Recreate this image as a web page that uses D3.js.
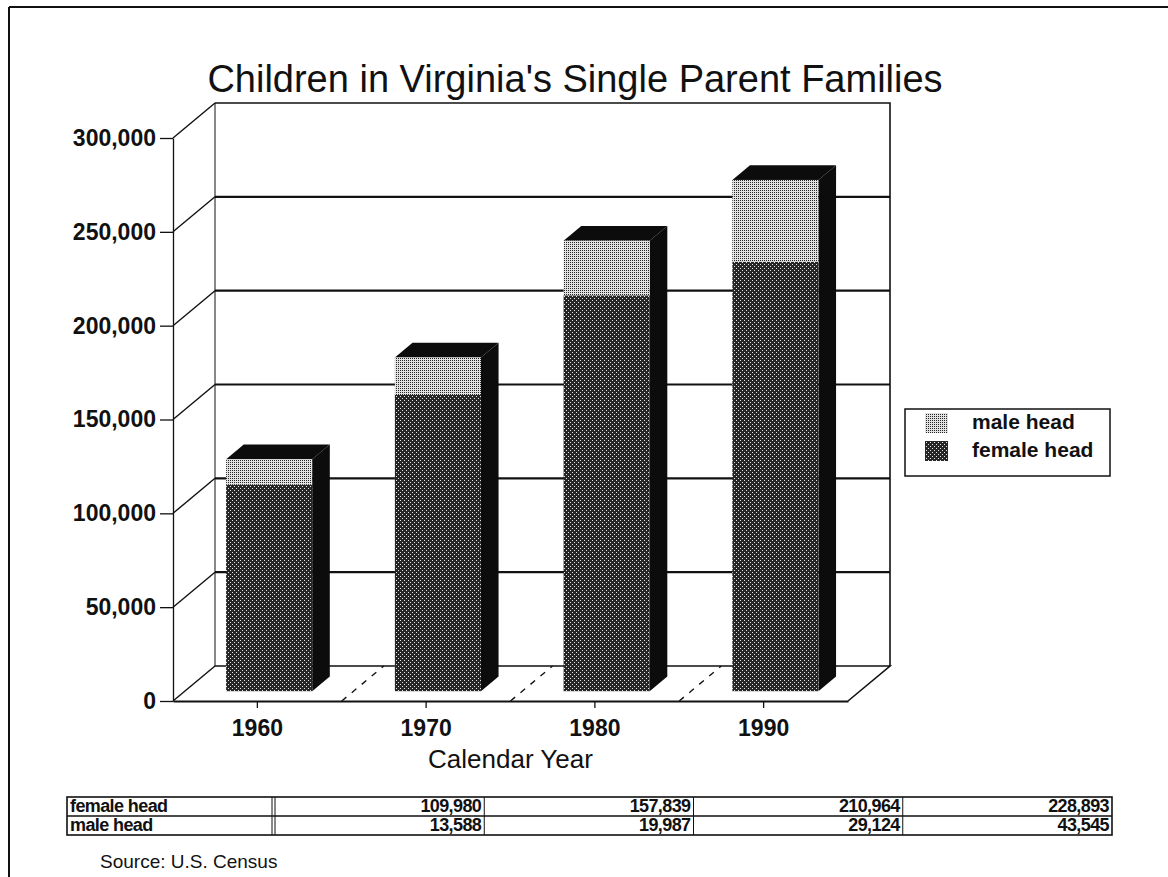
<!DOCTYPE html>
<html>
<head>
<meta charset="utf-8">
<script src="https://cdn.jsdelivr.net/npm/d3@7"></script>
<style>
  html, body { margin: 0; padding: 0; background: #fff; }
  svg { display: block; }
  text { font-family: "Liberation Sans", Arial, Helvetica, sans-serif; fill: #111; }
</style>
</head>
<body>
<svg id="chart" width="1168" height="877"></svg>
<script>
// Children in single-parent families, Virginia, by census year
const years = ["1960", "1970", "1980", "1990"];
const femaleHead = [109980, 157839, 210964, 228893];
const maleHead = [13588, 19987, 29124, 43545];
const yTickValues = [0, 50000, 100000, 150000, 200000, 250000, 300000];
const legendLabels = ["male head", "female head"];
const tableRows = ["female head", "male head"];

const svg = d3.select("#chart");
const ink = "#111";

// Oblique projection of the box: depth moves right and up
const DX = 42, DY = 35;
const x = d3.scaleBand().domain(years).range([173, 848]);
const y = d3.scaleLinear().domain([0, 300000]).range([701, 138]);
const proj = (px, v, z) => [px + z * DX, y(v) - z * DY];

// Dithered fill patterns for the two series
const defs = svg.append("defs");
const pf = defs.append("pattern").attr("id", "patFemale")
  .attr("width", 4).attr("height", 4).attr("patternUnits", "userSpaceOnUse");
pf.append("rect").attr("width", 4).attr("height", 4).attr("fill", "#262626");
pf.append("rect").attr("x", 0).attr("y", 0).attr("width", 1).attr("height", 1).attr("fill", "#e4e4e4");
pf.append("rect").attr("x", 2).attr("y", 2).attr("width", 1).attr("height", 1).attr("fill", "#e4e4e4");

const pm = defs.append("pattern").attr("id", "patMale")
  .attr("width", 2).attr("height", 2).attr("patternUnits", "userSpaceOnUse");
pm.append("rect").attr("width", 2).attr("height", 2).attr("fill", "#e2e2e2");
pm.append("rect").attr("x", 0).attr("y", 0).attr("width", 1).attr("height", 1).attr("fill", "#262626");

// Page frame (top and left edges)
svg.append("line").attr("x1", 9).attr("y1", 7).attr("x2", 1168).attr("y2", 7)
  .attr("stroke", ink).attr("stroke-width", 2);
svg.append("line").attr("x1", 9).attr("y1", 7).attr("x2", 9).attr("y2", 877)
  .attr("stroke", ink).attr("stroke-width", 2);

// Title
svg.append("text").attr("x", 575).attr("y", 92).attr("text-anchor", "middle")
  .style("font-size", "38px").text("Children in Virginia's Single Parent Families");

const x0 = x.range()[0], x1 = x.range()[1];
const vMax = y.domain()[1];
const line = d3.line();

// Back wall outline and gridlines
const walls = svg.append("g").attr("fill", "none").attr("stroke", ink);
walls.append("path").attr("stroke-width", 1.6)
  .attr("d", line([proj(x0, vMax, 1), proj(x1, vMax, 1), proj(x1, 0, 1)]));
walls.append("path").attr("stroke-width", 1)
  .attr("d", line([proj(x0, vMax, 1), proj(x0, 0, 1)]));
yTickValues.filter(v => v > 0 && v < vMax).forEach(v => {
  walls.append("path").attr("stroke-width", 2.2)
    .attr("d", line([proj(x0, v, 1), proj(x1, v, 1)]));
});
// Left wall diagonals
yTickValues.forEach(v => {
  walls.append("path").attr("stroke-width", 1.4)
    .attr("d", line([proj(x0, v, 0), proj(x0, v, 1)]));
});
// Floor
walls.append("path").attr("stroke-width", 1.6)
  .attr("d", line([proj(x0, 0, 1), proj(x1, 0, 1), proj(x1, 0, 0)]));
// Dashed floor separators between categories
years.slice(1).forEach(c => {
  walls.append("path").attr("stroke-width", 1.4).attr("stroke-dasharray", "6,7")
    .attr("d", line([proj(x(c), 0, 0), proj(x(c), 0, 1)]));
});

// Stacked 3D bars
const z0 = 0.28, z1 = 0.7;
const hw = x.bandwidth() * 0.255;
const bars = svg.append("g");
years.forEach((c, i) => {
  const cx = x(c) + x.bandwidth() / 2;
  const segs = [
    { lo: 0, hi: femaleHead[i], fill: "url(#patFemale)" },
    { lo: femaleHead[i], hi: femaleHead[i] + maleHead[i], fill: "url(#patMale)" }
  ];
  const total = femaleHead[i] + maleHead[i];
  // right side face
  bars.append("path").attr("fill", "#0c0c0c")
    .attr("d", line([proj(cx + hw, 0, z0), proj(cx + hw, 0, z1),
                     proj(cx + hw, total, z1), proj(cx + hw, total, z0)]) + "Z");
  // top face
  bars.append("path").attr("fill", "#0c0c0c")
    .attr("d", line([proj(cx - hw, total, z0), proj(cx - hw, total, z1),
                     proj(cx + hw, total, z1), proj(cx + hw, total, z0)]) + "Z");
  // front faces
  segs.forEach(s => {
    const a = proj(cx - hw, s.hi, z0), b = proj(cx + hw, s.lo, z0);
    bars.append("rect").attr("x", a[0]).attr("y", a[1])
      .attr("width", b[0] - a[0]).attr("height", b[1] - a[1])
      .attr("fill", s.fill);
  });
});

// Value axis on the front-left edge
const yAxis = svg.append("g").attr("transform", `translate(${x0},0)`)
  .call(d3.axisLeft(y).tickValues(yTickValues).tickFormat(d3.format(","))
    .tickSize(13).tickSizeOuter(0).tickPadding(4));
yAxis.select(".domain").attr("stroke", ink).attr("stroke-width", 1.3);
yAxis.selectAll(".tick line").attr("stroke", ink).attr("stroke-width", 1.3);
yAxis.selectAll(".tick text").attr("fill", ink)
  .style("font-size", "23px").style("font-weight", "bold")
  .style("font-family", "'Liberation Sans', Arial, sans-serif");

// Category axis on the front floor edge
const xAxis = svg.append("g").attr("transform", `translate(0,${y(0)})`)
  .call(d3.axisBottom(x).tickSize(7).tickSizeOuter(0).tickPadding(12));
xAxis.select(".domain").attr("stroke", ink).attr("stroke-width", 2);
xAxis.selectAll(".tick line").attr("stroke", ink).attr("stroke-width", 1.3);
xAxis.selectAll(".tick text").attr("fill", ink)
  .style("font-size", "23px").style("font-weight", "bold")
  .style("font-family", "'Liberation Sans', Arial, sans-serif");

svg.append("text").attr("x", (x0 + x1) / 2).attr("y", 768).attr("text-anchor", "middle")
  .style("font-size", "26px").text("Calendar Year");

// Legend
const lg = svg.append("g");
lg.append("rect").attr("x", 905).attr("y", 409).attr("width", 205).attr("height", 67)
  .attr("fill", "#fff").attr("stroke", ink).attr("stroke-width", 1.5);
const legendFills = ["url(#patMale)", "url(#patFemale)"];
legendLabels.forEach((name, i) => {
  const yy = 413 + i * 28;
  lg.append("rect").attr("x", 925).attr("y", yy).attr("width", 23).attr("height", 20)
    .attr("fill", legendFills[i]);
  lg.append("text").attr("x", 972).attr("y", yy + 16)
    .style("font-size", "21px").style("font-weight", "bold").text(name);
});

// Data table under the chart
const tx = d3.scaleBand().domain(years).range([275, 1112]);
const rowTop = 797, rowH = 19;
const tbl = svg.append("g");
const tableValues = [femaleHead, maleHead];
tbl.append("rect").attr("x", 67).attr("y", rowTop).attr("width", 1112 - 67).attr("height", rowH * 2)
  .attr("fill", "none").attr("stroke", ink).attr("stroke-width", 1.6);
tbl.append("line").attr("x1", 67).attr("x2", 1112).attr("y1", rowTop + rowH).attr("y2", rowTop + rowH)
  .attr("stroke", ink).attr("stroke-width", 1.4);
tbl.append("line").attr("x1", 272).attr("x2", 272).attr("y1", rowTop).attr("y2", rowTop + 2 * rowH)
  .attr("stroke", ink).attr("stroke-width", 1);
years.forEach(c => {
  tbl.append("line").attr("x1", tx(c)).attr("x2", tx(c)).attr("y1", rowTop).attr("y2", rowTop + 2 * rowH)
    .attr("stroke", ink).attr("stroke-width", 1);
});
tableRows.forEach((r, ri) => {
  const base = rowTop + ri * rowH + 15;
  tbl.append("text").attr("x", 70).attr("y", base)
    .style("font-size", "18px").style("font-weight", "bold").style("letter-spacing", "-0.6px").text(r);
  years.forEach((c, ci) => {
    tbl.append("text").attr("x", tx(c) + tx.bandwidth() - 3).attr("y", base).attr("text-anchor", "end")
      .style("font-size", "18px").style("font-weight", "bold").style("letter-spacing", "-0.6px")
      .text(d3.format(",")(tableValues[ri][ci]));
  });
});

// Source note
svg.append("text").attr("x", 100).attr("y", 868)
  .style("font-size", "19px").text("Source:  U.S. Census");
</script>
</body>
</html>
